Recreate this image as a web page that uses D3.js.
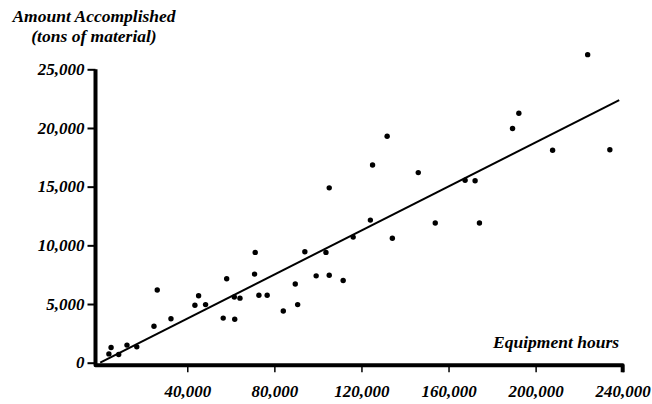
<!DOCTYPE html>
<html>
<head>
<script src="https://d3js.org/d3.v7.min.js"></script>
<style>
body { margin: 0; background: #fff; }
text { font-family: "Liberation Serif", serif; font-weight: bold; font-style: italic; fill: #000; }
</style>
</head>
<body>
<script>

var w = 652;
var h = 404;

// equipment hours vs tons of material accomplished
var hours = [5000, 4000, 8500, 12300, 16800, 24700, 26200, 32500, 43500, 45200,
             48400, 56500, 58100, 61600, 61800, 64200, 71200, 70900, 72900, 76700,
             84100, 89600, 90700, 94000, 99200, 103700, 105200, 105200, 111600, 116200,
             124100, 125100, 131800, 134200, 146100, 153900, 167600, 172200, 174200, 189400,
             192300, 207800, 223900, 234100];
var tons = [1300, 750, 700, 1500, 1350, 3100, 6200, 3750, 4900, 5700,
            4950, 3800, 7150, 5600, 3700, 5500, 9400, 7550, 5750, 5750,
            4400, 6700, 4950, 9450, 7400, 9400, 7450, 14900, 7000, 10700,
            12150, 16850, 19300, 10600, 16200, 11900, 15550, 15500, 11900, 19950,
            21250, 18100, 26250, 18150];

// fitted line end points
var fitHours = [0, 238400];
var fitTons = [0, 22380];

var xTicks = [40000, 80000, 120000, 160000, 200000, 240000];
var yTicks = [0, 5000, 10000, 15000, 20000, 25000];

var data = hours.map(function(d, i){ return {x: d, y: tons[i]}; });

var x = d3.scaleLinear().domain([0, 240000]).range([100.2, 622.7]);
var y = d3.scaleLinear().domain([0, 25000]).range([362.7, 69.3]);

var svg = d3.select("body").append("svg").attr("width", w).attr("height", h);

var axisX = x(0) - 4.7;
var axisY = y(0) + 2.5;

// y ticks + labels
var yAxis = d3.axisLeft(y).tickValues(yTicks).tickSize(8).tickPadding(3)
  .tickFormat(d3.format(","));
var gy = svg.append("g").attr("transform", "translate(" + axisX + ",0)").call(yAxis);
gy.select(".domain").remove();
gy.selectAll("line").attr("stroke", "#000").attr("stroke-width", 2);
gy.selectAll("text").attr("font-size", "17px").attr("font-family", null)
  .attr("dy", "0.3em");

// x ticks + labels
var xAxis = d3.axisBottom(x).tickValues(xTicks).tickSize(7).tickPadding(13)
  .tickFormat(d3.format(","));
var gx = svg.append("g").attr("transform", "translate(0," + axisY + ")").call(xAxis);
gx.select(".domain").remove();
gx.selectAll("line").attr("stroke", "#000").attr("stroke-width", 1.5);
gx.selectAll("text").attr("font-size", "17px").attr("font-family", null);

// axis lines, one path so the corner is rounded
svg.append("path")
  .attr("d", "M" + axisX + "," + y(25000) + "V" + axisY + "H" + x(240000) + "V" + (axisY + 7))
  .attr("fill", "none")
  .attr("stroke", "#000")
  .attr("stroke-width", 4)
  .attr("stroke-linejoin", "round");

// fitted line
svg.append("line")
  .attr("x1", x(fitHours[0])).attr("y1", y(fitTons[0]))
  .attr("x2", x(fitHours[1])).attr("y2", y(fitTons[1]))
  .attr("stroke", "#000").attr("stroke-width", 2);

svg.selectAll("circle")
  .data(data)
  .enter().append("circle")
  .attr("cx", function(d){ return x(d.x); })
  .attr("cy", function(d){ return y(d.y); })
  .attr("r", 2.7)
  .attr("fill", "#000");

// titles
svg.append("text").attr("x", 94).attr("y", 22).attr("text-anchor", "middle")
  .attr("font-size", "17.5px").text("Amount Accomplished");
svg.append("text").attr("x", 94).attr("y", 42).attr("text-anchor", "middle")
  .attr("font-size", "17.5px").text("(tons of material)");
svg.append("text").attr("x", 619).attr("y", 348).attr("text-anchor", "end")
  .attr("font-size", "17.5px").text("Equipment hours");

</script>
</body>
</html>
